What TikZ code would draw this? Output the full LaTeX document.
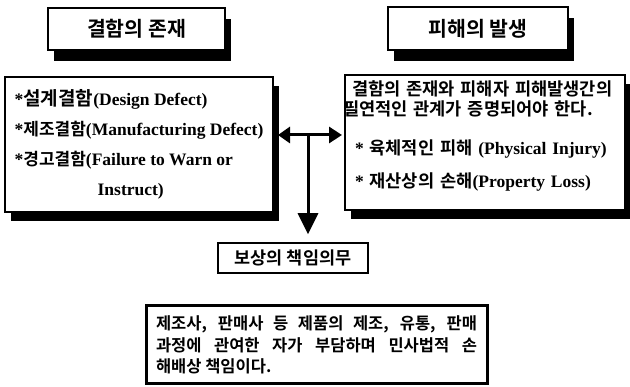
\documentclass[tikz,border=0pt]{standalone}
\usepackage{fontspec}
\setmainfont{Liberation Serif}
\newfontfamily\hangul[WordSpace=1.6, BoldFont={Noto Sans CJK KR Bold}]{Noto Sans CJK KR}
\newfontfamily\hangulbody[BoldFont={Noto Sans CJK KR Bold}]{Noto Sans CJK KR}
\def\krsize{17}
\newcommand{\kr}[1]{{\hangul\fontsize{\krsize}{\baselineskip}\selectfont #1}}
\usetikzlibrary{positioning, arrows.meta, shadows}
\tikzset{
  title box/.style={
    draw=black, line width=2pt, fill=white,
    drop shadow={shadow xshift=6pt, shadow yshift=-11pt, fill=black, opacity=1},
    inner sep=0pt, align=center,
    font=\fontsize{20.5}{24}\selectfont\bfseries\hangul
  },
  content box/.style={
    draw=black, line width=2pt, fill=white,
    drop shadow={shadow xshift=6pt, shadow yshift=-9pt, fill=black, opacity=1},
    inner sep=0pt, align=left,
    font=\fontsize{17.5}{30}\selectfont\bfseries
  },
  duty title/.style={
    draw=black, line width=1.5pt, fill=white,
    inner sep=0pt, align=center,
    font=\fontsize{17.5}{20}\selectfont\bfseries\hangul
  },
  duty box/.style={
    draw=black, line width=3pt, fill=white,
    inner sep=0pt, align=justify,
    font=\fontsize{16.5}{21.5}\selectfont\bfseries\hangulbody
  },
  link arrow/.style={
    {Triangle[length=12pt,width=16pt]}-{Triangle[length=13pt,width=16pt]},
    line width=3pt
  },
  duty arrow/.style={
    -{Triangle[length=21pt,width=20pt]},
    line width=3pt
  }
}
\begin{document}
\begin{tikzpicture}[x=1pt, y=-1pt]
  \useasboundingbox (0,0) rectangle (630,387);
  % Titles
  \node[title box, minimum width=177pt, minimum height=42pt] (deftitle) at (136.5,29) {결함의 존재};
  \node[title box, minimum width=180pt, minimum height=43pt] (dmgtitle) at (478,28.5) {피해의 발생};

  % Contents
  \node[content box, minimum width=268pt, minimum height=135pt, at={(139,144.5)}] (defbox) {%
    \def\krsize{19}%
    *\kr{설계결함}(Design Defect)\\
    *\kr{제조결함}(Manufacturing Defect)\\
    *\kr{경고결함}(Failure to Warn or\\
    \hspace*{83pt}Instruct)};
  \node[content box, minimum width=280pt, minimum height=135pt, text width=280pt,
        font=\fontsize{17.5}{20}\selectfont\bfseries] (dmgbox) at (485,142.5) {%
    \def\krsize{17.6}%
    \hspace*{7pt}\mbox{\kr{결함의 존재와 피해자 피해발생간의}}\\
    \hspace*{-2pt}\mbox{\kr{필연적인 관계가 증명되어야 한다.}}\\[19pt]
    \hspace*{10pt}\mbox{* \kr{육체적인 피해} (Physical Injury)}\\[13pt]
    \hspace*{10pt}\mbox{* \kr{재산상의 손해}(Property Loss)}\\[-3pt]
    \mbox{}};

  % Duty
  \node[duty title, minimum width=150pt, minimum height=30pt] (dutytitle) at (293,258) {보상의 책임의무};
  \node[duty box, minimum width=341pt, minimum height=78pt, text width=321pt] (dutybox) at (316.5,345) {%
    \tolerance=10000
    제조사, 판매사 등 제품의 제조, 유통, 판매\linebreak
    과정에 관여한 자가 부담하며 민사법적 손\linebreak
    해배상 책임이다.};

  % Links
  \coordinate (hub) at (308,135);
  \draw[link arrow, shorten <=4pt, shorten >=2pt] (defbox.east |- hub) -- (dmgbox.west |- hub);
  \draw[duty arrow, shorten >=8pt] (hub) -- (hub |- dutytitle.north);
\end{tikzpicture}
\end{document}
